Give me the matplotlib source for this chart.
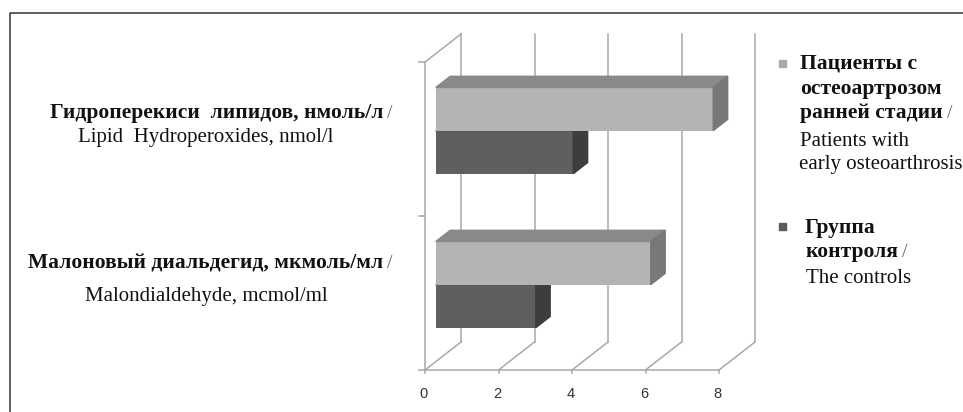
import matplotlib
matplotlib.use("Agg")
import matplotlib.pyplot as plt
from matplotlib.patches import Polygon, Rectangle
from matplotlib.lines import Line2D

# values per category, bottom to top
categories = ["Malondialdehyde", "Lipid Hydroperoxides"]
patients = [5.85, 7.55]
controls = [2.72, 3.74]
xticks = [0, 2, 4, 6, 8]

cat_ru = ["Малоновый диальдегид, мкмоль/мл", "Гидроперекиси  липидов, нмоль/л"]
cat_en = ["Malondialdehyde, mcmol/ml", "Lipid  Hydroperoxides, nmol/l"]

W, H = 963, 412
fig = plt.figure(figsize=(W / 100, H / 100), dpi=100)
fig.patch.set_facecolor("white")

# axes spans the whole figure; limits chosen so value 0 sits at x=425px,
# 36.75 px per unit, category floor at y=370px with 154 px per category
ax = fig.add_axes([0, 0, 1, 1])
ax.set_xlim(-425 / 36.75, (W - 425) / 36.75)
ax.set_ylim(-(H - 370) / 154, 370 / 154)
ax.axis("off")

def fpx(x, y):
    return x / W, 1 - y / H

# depth of the 3D box (data units)
DX, DY = 36 / 36.75, 28 / 154
grid_c = "#a8a8a8"
glw = 1.1
ncat = len(categories)
vmax = xticks[-1]

# back wall gridlines and floor diagonals
for v in xticks:
    ax.add_line(Line2D([v + DX, v + DX], [DY, ncat + DY], color=grid_c, lw=glw, zorder=1))
    ax.add_line(Line2D([v, v + DX], [0, DY], color=grid_c, lw=glw, zorder=1))
    ax.add_line(Line2D([v, v], [0, -3 / 154], color=grid_c, lw=glw, zorder=1))
    ax.annotate(str(v), (v, 0), xytext=(-1, -17), textcoords="offset points",
                ha="center", va="center", fontsize=10.5, color="#333333",
                family="Liberation Sans")
ax.add_line(Line2D([0, vmax], [0, 0], color=grid_c, lw=glw, zorder=1))

# left wall
ax.add_line(Line2D([0, 0], [0, ncat], color=grid_c, lw=glw, zorder=1))
ax.add_line(Line2D([0, DX], [ncat, ncat + DY], color=grid_c, lw=glw, zorder=1))
for k in range(ncat + 1):
    ax.add_line(Line2D([-6 / 36.75, 0], [k, k], color=grid_c, lw=glw, zorder=1))

# bars sit between 30% and 70% of the depth
f0, f1 = 0.3, 0.7
x0, y0 = f0 * DX, f0 * DY
bdx, bdy = (f1 - f0) * DX, (f1 - f0) * DY
h = 0.28

def bar3d(val, ybot, front, top, side, z):
    ax.barh(ybot + y0 + h / 2, val, height=h, left=x0, color=front, zorder=z)
    yt = ybot + y0 + h
    yb = ybot + y0
    xe = x0 + val
    ax.add_patch(Polygon([(x0, yt), (xe, yt), (xe + bdx, yt + bdy), (x0 + bdx, yt + bdy)],
                         closed=True, color=top, zorder=z))
    ax.add_patch(Polygon([(xe, yb), (xe, yt), (xe + bdx, yt + bdy), (xe + bdx, yb + bdy)],
                         closed=True, color=side, zorder=z))

for i in range(ncat):
    c = i + 0.5
    bar3d(controls[i], c - h, "#5f5f5f", "#4a4a4a", "#3d3d3d", 3 + 2 * i)
    bar3d(patients[i], c, "#b4b4b4", "#898989", "#787878", 4 + 2 * i)

serif = ["Liberation Serif", "DejaVu Serif"]
fs_b, fs_r = 15.5, 15
renderer = fig.canvas.get_renderer()

def slash_after(t):
    # regular grey slash right after a bold text
    bb = t.get_window_extent(renderer)
    fig.text((bb.x1 + 4) / W, t.get_position()[1], "/", ha="left", va="baseline",
             fontsize=fs_r - 1, family=serif, color="#666666")

# category labels
lab_y = {1: (118, 142), 0: (268, 301)}
for i in range(ncat):
    yb1, yb2 = lab_y[i]
    t = fig.text(*fpx(383, yb1), cat_ru[i], ha="right", va="baseline",
                 fontsize=fs_b, fontweight="bold", family=serif, color="#111111")
    slash_after(t)
    fig.text(*fpx(206, yb2), cat_en[i], ha="center", va="baseline",
             fontsize=fs_r, family=serif, color="#111111")

# legend
fig.add_artist(Rectangle(fpx(778.5, 67), 7 / W, 7 / H, color="#a9a9a9",
                         transform=fig.transFigure))
fig.add_artist(Rectangle(fpx(778.5, 230), 7 / W, 7 / H, color="#5a5a5a",
                         transform=fig.transFigure))
leg_bold = [(800, 68, "Пациенты с", False), (800, 94, "остеоартрозом", False),
            (800, 118, "ранней стадии", True), (805, 233, "Группа", False),
            (805, 257, "контроля", True)]
for x, y, s, sl in leg_bold:
    t = fig.text(*fpx(x, y), s, ha="left", va="baseline", fontsize=fs_b,
                 fontweight="bold", family=serif, color="#111111")
    if sl:
        slash_after(t)
leg_reg = [(800, 146, "Patients with"), (799, 169, "early osteoarthrosis"),
           (806, 283, "The controls")]
for x, y, s in leg_reg:
    fig.text(*fpx(x, y), s, ha="left", va="baseline", fontsize=fs_r,
             family=serif, color="#111111")

# frame (top and left edges)
fig.add_artist(Line2D([9.5 / W, 9.5 / W, 1], [0, 1 - 12.5 / H, 1 - 12.5 / H],
                      color="#333333", lw=1.1, transform=fig.transFigure))

fig.savefig("out.png", dpi=100, facecolor="white")
